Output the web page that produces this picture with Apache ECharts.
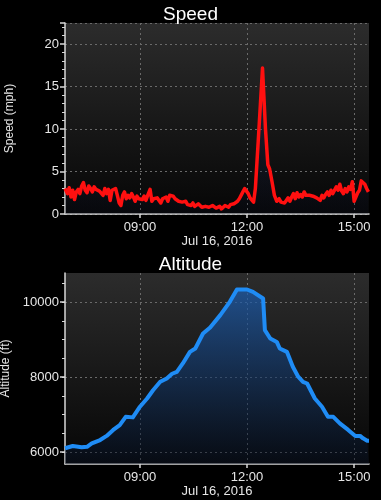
<!DOCTYPE html>
<html>
<head>
<meta charset="utf-8">
<script src="https://cdn.jsdelivr.net/npm/echarts@6/dist/echarts.min.js"></script>
<style>
html,body{margin:0;padding:0;background:#000;}
#chart{width:381px;height:500px;}
</style>
</head>
<body>
<div id="chart"></div>
<script>
// ---- data ----
var dateLabel = 'Jul 16, 2016';
var day = '2016-07-16T';
var speedTimes = ['06:54','06:58','07:01','07:04','07:07','07:10','07:13','07:16','07:19','07:22','07:25','07:28','07:31','07:34','07:37','07:40','07:43','07:46','07:49','07:52','07:55','07:58','08:01','08:04','08:07','08:10','08:13','08:16','08:19','08:22','08:25','08:28','08:31','08:34','08:37','08:40','08:43','08:46','08:49','08:52','08:55','08:58','09:01','09:04','09:07','09:10','09:13','09:17','09:20','09:23','09:26','09:29','09:32','09:35','09:38','09:41','09:44','09:47','09:50','09:53','09:56','09:59','10:02','10:05','10:08','10:11','10:14','10:17','10:20','10:23','10:26','10:29','10:32','10:35','10:38','10:41','10:44','10:47','10:50','10:53','10:56','10:59','11:02','11:05','11:08','11:11','11:14','11:17','11:20','11:23','11:26','11:29','11:32','11:35','11:38','11:41','11:44','11:47','11:50','11:53','11:56','11:59','12:02','12:05','12:08','12:11','12:14','12:20','12:26','12:31','12:35','12:38','12:42','12:46','12:50','12:54','12:57','13:00','13:03','13:06','13:09','13:12','13:15','13:18','13:21','13:24','13:27','13:30','13:33','13:36','13:39','13:42','13:45','13:48','13:51','13:54','13:57','14:00','14:03','14:06','14:09','14:12','14:15','14:18','14:21','14:24','14:27','14:30','14:33','14:36','14:39','14:42','14:45','14:48','14:51','14:54','14:57','15:00','15:03','15:06','15:09','15:12','15:15','15:18','15:21','15:24'];
var speedValues = [3.0,2.4,3.1,2.0,2.8,1.7,2.6,2.9,2.4,3.3,3.7,2.8,2.5,3.3,3.0,2.6,3.2,2.9,3.1,2.7,2.9,2.2,3.0,2.4,2.9,1.6,2.8,2.6,3.0,2.2,1.3,1.0,2.2,2.6,1.8,2.2,1.9,2.4,2.0,1.5,2.1,1.8,2.0,1.7,2.1,1.6,2.2,2.9,1.5,1.8,1.6,1.9,1.7,1.3,1.8,1.6,2.0,1.5,2.2,2.4,2.1,1.8,1.7,1.5,1.3,1.4,1.2,1.5,1.1,1.3,1.0,1.3,0.9,1.1,1.2,1.0,0.8,1.0,0.9,1.0,0.8,0.9,1.0,0.8,0.7,0.6,0.9,0.6,0.8,1.0,0.9,0.8,1.1,1.0,1.2,1.1,1.5,1.8,2.2,2.6,3.0,2.8,2.4,1.9,1.7,1.4,3.0,10.0,17.2,10.0,5.8,5.3,3.8,2.2,1.5,1.8,1.4,1.6,1.3,1.5,1.9,1.5,2.0,2.4,1.8,2.5,2.0,2.3,2.0,2.6,2.2,2.1,2.2,2.0,2.1,2.2,1.9,2.1,1.6,2.2,1.9,2.3,2.6,2.2,2.8,2.4,2.3,3.2,2.8,3.5,2.7,2.4,3.0,2.6,3.2,2.9,3.8,1.5,2.0,2.5,2.8,3.9,3.7,3.5,3.0,2.6];
var altTimes = ['06:54','07:07','07:22','07:31','07:39','07:53','08:04','08:15','08:26','08:36','08:48','09:00','09:12','09:22','09:34','09:45','09:54','10:02','10:12','10:24','10:33','10:46','10:58','11:15','11:31','11:43','12:00','12:10','12:27','12:30','12:39','12:50','12:55','13:07','13:17','13:26','13:34','13:41','13:54','14:06','14:16','14:25','14:36','14:50','15:02','15:10','15:15','15:22','15:25'];
var altValues = [6100,6160,6125,6140,6230,6320,6430,6590,6720,6940,6925,7210,7430,7650,7875,7965,8090,8140,8365,8675,8765,9165,9325,9655,10010,10340,10340,10275,10100,9255,9030,8940,8765,8675,8275,8010,7875,7830,7430,7210,6940,6940,6765,6590,6430,6430,6365,6300,6300];
var xTickLabels = ['09:00','12:00','15:00'];
var speedTicks = [0,5,10,15,20];
var altTicks = [6000,8000,10000];
var altMinorTicks = [6000,6500,7000,7500,8000,8500,9000,9500,10000,10500];
var xMin = '06:54', xMax = '15:25';
var speedMax = 22.5, altMin = 5680, altMax = 10780;

function ts(hm){ return new Date(day + hm + ':00').getTime(); }
function pairs(t, v){ return t.map(function(x,i){ return [ts(x), v[i]]; }); }
function fmtTime(val){ var d = new Date(val); var h = d.getHours(), m = d.getMinutes(); return (h<10?'0':'')+h+':'+(m<10?'0':'')+m; }
function fmtNum(v){ return String(Math.round(v)); }

var chart = echarts.init(document.getElementById('chart'), null, {renderer:'canvas'});
var FONT = '"Liberation Sans", Helvetica, Arial, sans-serif';
var bgGrad = function(){ return new echarts.graphic.LinearGradient(0,0,0,1,[{offset:0,color:'#2c2c2c'},{offset:1,color:'#060606'}]); };
var axisCol = '#d8d8d8';
var xTickVals = xTickLabels.map(ts);

function xAxisDef(gi){
  return {
    type:'value', gridIndex:gi, min:ts(xMin), max:ts(xMax), scale:true,
    name: dateLabel, nameLocation:'middle', nameGap:21,
    nameTextStyle:{color:'#e6e6e6', fontSize:13, fontFamily:FONT},
    axisLine:{show:true, lineStyle:{color:axisCol, width:1.5}},
    axisTick:{show:true, customValues:xTickVals, length:4, lineStyle:{color:axisCol, width:1.5}},
    axisLabel:{customValues:xTickVals, formatter:fmtTime, margin:7, color:'#e6e6e6', fontSize:13, fontFamily:FONT},
    splitLine:{show:true, lineStyle:{color:'#6a6a6a', type:[2,3], width:1}}
  };
}

var option = {
  backgroundColor:'#000',
  animation:false,
  title:[
    {text:'Speed', left:'center', top:0, textStyle:{color:'#fff', fontSize:19, fontWeight:'normal', fontFamily:FONT}},
    {text:'Altitude', left:'center', top:250, textStyle:{color:'#fff', fontSize:19, fontWeight:'normal', fontFamily:FONT}}
  ],
  grid:[
    {left:65, right:12, top:23, height:191, show:true, borderWidth:0, backgroundColor:bgGrad(), containLabel:false, outerBoundsMode:'none'},
    {left:65, right:12, top:273, height:191, show:true, borderWidth:0, backgroundColor:bgGrad(), containLabel:false, outerBoundsMode:'none'}
  ],
  xAxis:[xAxisDef(0), xAxisDef(1)],
  yAxis:[
    {
      type:'value', gridIndex:0, min:0, max:speedMax, interval:5,
      name:'Speed (mph)', nameLocation:'middle', nameGap:49, nameRotate:90,
      nameTextStyle:{color:'#e6e6e6', fontSize:12, fontFamily:FONT},
      axisLine:{show:true, lineStyle:{color:axisCol, width:1.5}},
      axisTick:{show:true, length:5, lineStyle:{color:axisCol, width:1.5}},
      minorTick:{show:true, splitNumber:5, length:3, lineStyle:{color:axisCol, width:1}},
      axisLabel:{margin:6, showMaxLabel:false, formatter:fmtNum, color:'#e6e6e6', fontSize:13, fontFamily:FONT},
      splitLine:{show:true, lineStyle:{color:'#6a6a6a', type:[2,3], width:1}}
    },
    {
      type:'value', gridIndex:1, min:altMin, max:altMax,
      name:'Altitude (ft)', nameLocation:'middle', nameGap:49, nameRotate:90,
      nameTextStyle:{color:'#e6e6e6', fontSize:12, fontFamily:FONT},
      axisLine:{show:true, lineStyle:{color:axisCol, width:1.5}},
      axisTick:{show:true, customValues:altTicks, length:5, lineStyle:{color:axisCol, width:1.5}},
      axisLabel:{margin:6, customValues:altTicks, formatter:fmtNum, color:'#e6e6e6', fontSize:13, fontFamily:FONT},
      splitLine:{show:true, lineStyle:{color:'#6a6a6a', type:[2,3], width:1}}
    },
    {
      type:'value', gridIndex:1, min:altMin, max:altMax, position:'left',
      axisLine:{show:false},
      axisTick:{show:true, customValues:altMinorTicks, length:3, lineStyle:{color:axisCol, width:1}},
      axisLabel:{show:false},
      splitLine:{show:false}
    }
  ],
  series:[
    {
      type:'line', xAxisIndex:0, yAxisIndex:0, data:pairs(speedTimes, speedValues),
      showSymbol:false, symbol:'none', smooth:false,
      lineStyle:{color:'#ff1010', width:3.5, join:'round'},
      areaStyle:{color:new echarts.graphic.LinearGradient(0,0,0,1,[{offset:0,color:'rgba(30,50,110,0.55)'},{offset:1,color:'rgba(10,15,35,0.3)'}])},
      z:3
    },
    {
      type:'line', xAxisIndex:1, yAxisIndex:1, data:pairs(altTimes, altValues),
      showSymbol:false, symbol:'none', smooth:false,
      lineStyle:{color:'#1f8cf5', width:4, join:'round'},
      areaStyle:{color:new echarts.graphic.LinearGradient(0,0,0,1,[{offset:0,color:'rgba(28,95,180,1)'},{offset:1,color:'rgba(8,16,32,0.7)'}])},
      z:3
    }
  ]
};
chart.setOption(option);
</script>
</body>
</html>
